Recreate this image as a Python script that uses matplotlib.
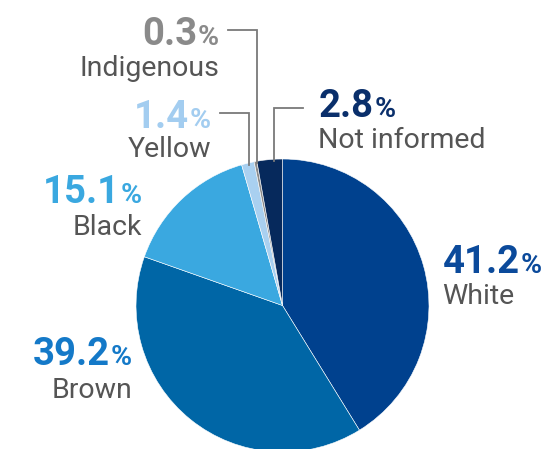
import matplotlib
matplotlib.use("Agg")
import matplotlib.pyplot as plt
import numpy as np

categories = ["White", "Brown", "Black", "Yellow", "Indigenous", "Not informed"]
values = [41.2, 39.2, 15.1, 1.4, 0.3, 2.8]
value_labels = ["41.2", "39.2", "15.1", "1.4", "0.3", "2.8"]
slice_colors = ["#00418E", "#0066A6", "#3AA8E0", "#A9D0F0", "#8A8A8A", "#06295C"]
label_colors = ["#0B4A9B", "#1479C8", "#3AA8E0", "#A3CDF0", "#8A8A8A", "#0A2F6B"]

W, H = 544, 449
fig = plt.figure(figsize=(W / 100, H / 100), dpi=100)
ax = fig.add_axes([0, 0, 1, 1])

cx, cy, r = 282.5, 305.5, 146.5  # pixel coords (y from top)
ax.pie(values, colors=slice_colors, startangle=90, counterclock=False,
       center=(cx, H - cy), radius=r, frame=True,
       wedgeprops=dict(linewidth=0.4, edgecolor="white"))
ax.set_xlim(0, W)
ax.set_ylim(0, H)
ax.set_aspect("equal")
ax.axis("off")

num_font = dict(family=["Roboto", "DejaVu Sans"], fontweight="bold", fontsize=27.5)
pct_font = dict(family=["Roboto", "DejaVu Sans"], fontweight="bold", fontsize=20.5)
name_font = dict(family=["Roboto", "DejaVu Sans"], fontsize=20.5, color="#555555")

# label layout: (anchor x, number baseline y, name baseline y, align)
layout = {
    "White": (443, 273, 304, "left"),
    "Brown": (132, 365, 398, "right"),
    "Black": (142, 203, 235, "right"),
    "Yellow": (211, 128, 157, "right"),
    "Indigenous": (219, 45, 76, "right"),
    "Not informed": (319, 117, 148, "left"),
}

fig.canvas.draw()
renderer = fig.canvas.get_renderer()

def text_width(s, **kw):
    t = ax.text(0, 0, s, **kw)
    w = t.get_window_extent(renderer).width
    t.remove()
    return w

pct_w = text_width("%", **pct_font)
num_w = {lab: text_width(lab, **num_font) for lab in value_labels}
gap = 0.5

for cat, lab, col in zip(categories, value_labels, label_colors):
    x, yb, yn, align = layout[cat]
    if align == "left":
        ax.text(x, H - yb, lab, ha="left", va="baseline", color=col, **num_font)
        ax.text(x + num_w[lab] + gap, H - yb, "%", ha="left", va="baseline", color=col, **pct_font)
        ax.text(x - 1, H - yn, cat, ha="left", va="baseline", **name_font)
    else:
        ax.text(x, H - yb, "%", ha="right", va="baseline", color=col, **pct_font)
        ax.text(x - pct_w - gap, H - yb, lab, ha="right", va="baseline", color=col, **num_font)
        ax.text(x, H - yn, cat, ha="right", va="baseline", **name_font)

# leader lines (pixel coords): (x_start, y, x_vertical)
leaders = {
    "Indigenous": (228, 30, 257),
    "Yellow": (220, 113, 249),
    "Not informed": (303, 108, 274),
}
for cat, (xs, y, xv) in leaders.items():
    y_end = cy - np.sqrt(r ** 2 - (xv - cx) ** 2) + 2
    ax.plot([xs, xv, xv], [H - y, H - y, H - y_end], color="#7a7a7a", lw=1.3,
            solid_joinstyle="miter", zorder=3)

fig.savefig("out.png", dpi=100)
